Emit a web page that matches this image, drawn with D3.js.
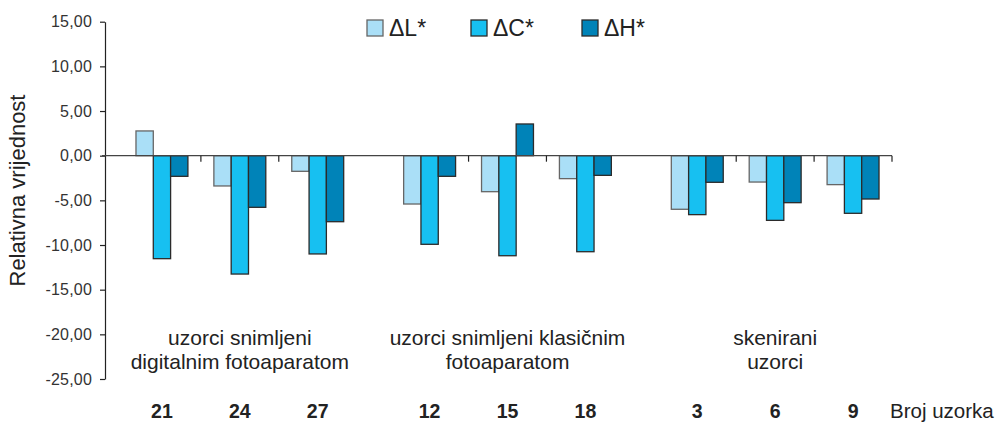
<!DOCTYPE html>
<html>
<head>
<meta charset="utf-8">
<script src="https://cdn.jsdelivr.net/npm/d3@7/dist/d3.min.js"></script>
<style>
  body { margin: 0; background: #fff; }
  svg { display: block; font-family: "Liberation Sans", Arial, sans-serif; }
  .tick-label { font-size: 16px; fill: #333; letter-spacing: 0.2px; }
  .group-label { font-size: 21px; fill: #222; }
  .sample-label { font-size: 19.5px; font-weight: bold; fill: #222; }
  .legend-item text { font-size: 23px; fill: #222; }
</style>
</head>
<body>
<div id="chart"></div>
<script>
// chart data
const groupLabels = [
  ['uzorci snimljeni', 'digitalnim fotoaparatom'],
  ['uzorci snimljeni klasičnim', 'fotoaparatom'],
  ['skenirani', 'uzorci']
];
const samples = ['21', '24', '27', '12', '15', '18', '3', '6', '9'];
const sampleGroup = [0, 0, 0, 1, 1, 1, 2, 2, 2];
const seriesNames = ['ΔL*', 'ΔC*', 'ΔH*'];
const deltaL = [2.77, -3.39, -1.75, -5.41, -4.03, -2.57, -6.00, -2.95, -3.24];
const deltaC = [-11.53, -13.25, -11.00, -9.92, -11.20, -10.75, -6.60, -7.24, -6.45];
const deltaH = [-2.31, -5.78, -7.39, -2.31, 3.55, -2.20, -2.98, -5.26, -4.85];
const yTicks = [15, 10, 5, 0, -5, -10, -15, -20, -25];

const seriesValues = [deltaL, deltaC, deltaH];
const colors = ['#aadff7', '#17c0f1', '#0083b8'];
const strokes = ['#666', '#2b2b2b', '#2b2b2b'];

const width = 999, height = 422;
const svg = d3.select('#chart').append('svg')
  .attr('width', width)
  .attr('height', height);

const locale = d3.formatLocale({ decimal: ',', thousands: '.', grouping: [3], currency: ['', ''], minus: '-' });
const fmt = locale.format('.2f');

// scales
const y = d3.scaleLinear().domain([-25, 15]).range([379, 21.7]);

const xGroup = d3.scaleBand()
  .domain(d3.range(groupLabels.length))
  .range([123, 892])
  .paddingInner(0.127);

const xSample = d3.scaleBand()
  .domain([0, 1, 2])
  .range([0, xGroup.bandwidth()]);

const xSeries = d3.scaleBand()
  .domain(seriesNames)
  .range([0, xSample.bandwidth()])
  .paddingInner(0)
  .paddingOuter(0.75);

const rows = samples.map((s, i) => {
  const g = sampleGroup[i];
  const idx = sampleGroup.slice(0, i).filter(v => v === g).length;
  return { sample: s, group: g, idx, x: xGroup(g) + xSample(idx) };
});

// y axis
const yAxis = svg.append('g')
  .attr('transform', 'translate(105,0)')
  .call(d3.axisLeft(y).tickValues(yTicks).tickFormat(fmt).tickSize(5).tickSizeOuter(0));
yAxis.attr('font-size', null).attr('font-family', null);
yAxis.select('.domain').attr('stroke', '#222').attr('stroke-width', 1.2);
yAxis.selectAll('.tick line').attr('stroke', '#222').attr('stroke-width', 1.2);
yAxis.selectAll('.tick text')
  .attr('class', 'tick-label')
  .attr('x', -13);

// y title
svg.append('text')
  .attr('transform', `translate(25,${y(-3.9)}) rotate(-90)`)
  .attr('text-anchor', 'middle')
  .style('font-size', '22px')
  .style('fill', '#222')
  .text('Relativna vrijednost');

// bars
const sampleG = svg.selectAll('.sample')
  .data(rows)
  .enter()
  .append('g')
  .attr('class', 'sample')
  .attr('transform', d => `translate(${d.x},0)`);

sampleG.selectAll('rect')
  .data((d, i) => seriesNames.map((name, k) => ({ name, k, value: seriesValues[k][i] })))
  .enter()
  .append('rect')
  .attr('x', d => xSeries(d.name))
  .attr('y', d => y(Math.max(0, d.value)))
  .attr('width', xSeries.bandwidth())
  .attr('height', d => Math.abs(y(d.value) - y(0)))
  .attr('fill', d => colors[d.k])
  .attr('stroke', d => strokes[d.k])
  .attr('stroke-width', 1.3);

// x axis line and ticks
const x0 = y(0);
svg.append('line')
  .attr('x1', 102).attr('x2', 892)
  .attr('y1', x0).attr('y2', x0)
  .attr('stroke', '#444').attr('stroke-width', 1.3);

const tickXs = rows.filter(d => d.idx > 0).map(d => d.x);
tickXs.push(xGroup.range()[1]);
svg.selectAll('.xtick')
  .data(tickXs)
  .enter()
  .append('line')
  .attr('class', 'xtick')
  .attr('x1', d => d).attr('x2', d => d)
  .attr('y1', x0).attr('y2', x0 + 6)
  .attr('stroke', '#222').attr('stroke-width', 1.2);

// group labels
svg.selectAll('.group-label')
  .data(groupLabels)
  .enter()
  .append('text')
  .attr('class', 'group-label')
  .attr('text-anchor', 'middle')
  .attr('x', (d, i) => xGroup(i) + xGroup.bandwidth() / 2)
  .attr('y', 345)
  .selectAll('tspan')
  .data(d => d)
  .enter()
  .append('tspan')
  .attr('x', function () { return d3.select(this.parentNode).attr('x'); })
  .attr('dy', (d, i) => i === 0 ? 0 : 24)
  .text(d => d);

// sample labels
svg.selectAll('.sample-label')
  .data(rows)
  .enter()
  .append('text')
  .attr('class', 'sample-label')
  .attr('text-anchor', 'middle')
  .attr('x', d => d.x + xSample.bandwidth() / 2)
  .attr('y', 418)
  .text(d => d.sample);

svg.append('text')
  .attr('x', 890)
  .attr('y', 418)
  .style('font-size', '20.5px')
  .style('fill', '#222')
  .text('Broj uzorka');

// legend
const legendX = [367, 471, 582];
const legend = svg.selectAll('.legend-item')
  .data(seriesNames)
  .enter()
  .append('g')
  .attr('class', 'legend-item')
  .attr('transform', (d, i) => `translate(${legendX[i]},20)`);

legend.append('rect')
  .attr('width', 16)
  .attr('height', 16)
  .attr('fill', (d, i) => colors[i])
  .attr('stroke', (d, i) => strokes[i])
  .attr('stroke-width', 1.3);

legend.append('text')
  .attr('x', 22)
  .attr('y', 16)
  .text(d => d);
</script>
</body>
</html>
